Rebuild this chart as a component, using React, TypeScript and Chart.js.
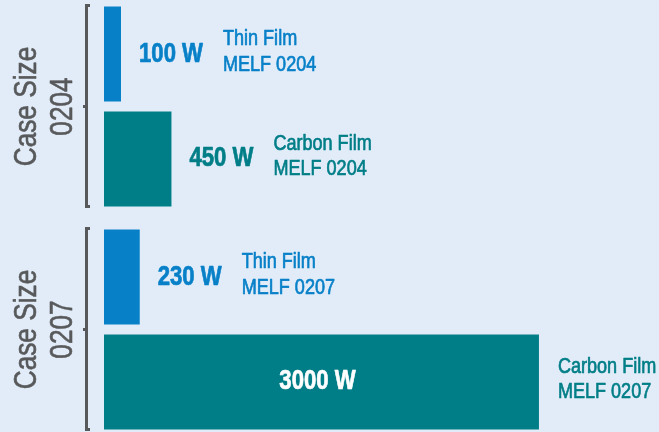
import React, { useEffect, useRef } from 'react';
import { Chart, registerables } from 'chart.js';

Chart.register(...registerables);

// ---- data ----
const caseSizes = ['0204', '0207'];
const groupTitle = 'Case Size';
const seriesNames = ['Thin Film', 'Carbon Film'];
const partFamily = 'MELF';
const thinFilmWatts = [100, 230];
const carbonFilmWatts = [450, 3000];
const unit = 'W';

// ---- style ----
const BLUE = '#0880c8';
const TEAL = '#007e87';
const GREY = '#58595b';
const BG = '#e1ecf8';
const FONT = '"Liberation Sans", Arial, sans-serif';
const NARROW = 0.82; // horizontal condensing factor
const seriesColors = [BLUE, TEAL];
const AXIS_MIN = -18;

function drawText(
  ctx: CanvasRenderingContext2D,
  text: string,
  x: number,
  y: number,
  align: 'left' | 'center',
  weight: number
) {
  const w = ctx.measureText(text).width * NARROW;
  const startX = align === 'center' ? x - w / 2 : x;
  ctx.save();
  ctx.translate(startX, y);
  ctx.scale(NARROW, 1);
  ctx.textAlign = 'left';
  ctx.textBaseline = 'alphabetic';
  ctx.fillText(text, 0, 0);
  if (weight > 0) {
    ctx.strokeStyle = ctx.fillStyle as string;
    ctx.lineWidth = weight;
    ctx.lineJoin = 'round';
    ctx.strokeText(text, 0, 0);
  }
  ctx.restore();
  return w;
}

const annotate = {
  id: 'annotate',
  afterDatasetsDraw(chart: any) {
    const { ctx, chartArea } = chart;
    const yScale = chart.scales.y;
    const nSets = chart.data.datasets.length;
    ctx.save();
    caseSizes.forEach((cs, i) => {
      const first = chart.getDatasetMeta(0).data[i] as any;
      const last = chart.getDatasetMeta(nSets - 1).data[i] as any;
      const top = first.y - first.height / 2 - 1;
      const bottom = last.y + last.height / 2;
      const mid = yScale.getPixelForValue(i);
      const xl = chartArea.left - 17.5;
      const xr = chartArea.left - 14;
      ctx.strokeStyle = GREY;
      ctx.lineWidth = 3;
      ctx.lineJoin = 'miter';
      ctx.lineCap = 'butt';
      ctx.beginPath();
      ctx.moveTo(xr, top);
      ctx.lineTo(xl, top);
      ctx.lineTo(xl, bottom);
      ctx.lineTo(xr, bottom);
      ctx.stroke();
      ctx.beginPath();
      ctx.moveTo(xl, mid);
      ctx.lineTo(xl - 3.5, mid);
      ctx.stroke();

      ctx.save();
      ctx.translate(chartArea.left - 68, mid);
      ctx.rotate(-Math.PI / 2);
      ctx.fillStyle = GREY;
      ctx.font = `32px ${FONT}`;
      drawText(ctx, groupTitle, 0, 0, 'center', 0.6);
      drawText(ctx, cs, 0, 36, 'center', 0.6);
      ctx.restore();
    });

    chart.data.datasets.forEach((ds: any, d: number) => {
      const meta = chart.getDatasetMeta(d);
      meta.data.forEach((bar: any, i: number) => {
        const v = ds.data[i];
        const color = seriesColors[d];
        const valueText = `${v} ${unit}`;
        ctx.font = `bold 27px ${FONT}`;
        const w = ctx.measureText(valueText).width * NARROW;
        const barLen = bar.x - bar.base;
        let nameX: number;
        if (barLen > w * 3) {
          ctx.fillStyle = '#ffffff';
          drawText(ctx, valueText, (bar.x + bar.base) / 2 - 4, bar.y + 7.5, 'center', 0.7);
          nameX = bar.x + 19;
        } else {
          ctx.fillStyle = color;
          drawText(ctx, valueText, bar.x + 18, bar.y + 7.5, 'left', 0.7);
          nameX = bar.x + 18 + w + 20;
        }
        ctx.font = `22px ${FONT}`;
        ctx.fillStyle = color;
        drawText(ctx, seriesNames[d], nameX, bar.y - 9, 'left', 0.7);
        drawText(ctx, `${partFamily} ${caseSizes[i]}`, nameX, bar.y + 16.5, 'left', 0.7);
      });
    });
    ctx.restore();
  },
};

export default function App() {
  const ref = useRef<HTMLCanvasElement | null>(null);
  useEffect(() => {
    if (!ref.current) return;
    const chart = new Chart(ref.current, {
      type: 'bar',
      data: {
        labels: caseSizes.map((c) => `${groupTitle} ${c}`),
        datasets: [
          {
            label: seriesNames[0],
            data: thinFilmWatts,
            backgroundColor: BLUE,
            base: AXIS_MIN,
            barPercentage: 0.905,
            categoryPercentage: 0.9417,
          },
          {
            label: seriesNames[1],
            data: carbonFilmWatts,
            backgroundColor: TEAL,
            base: AXIS_MIN,
            barPercentage: 0.905,
            categoryPercentage: 0.9417,
          },
        ],
      },
      options: {
        indexAxis: 'y',
        animation: false,
        responsive: true,
        maintainAspectRatio: false,
        layout: { padding: { left: 104, right: 0, top: 0, bottom: 0 } },
        plugins: { legend: { display: false }, tooltip: { enabled: false } },
        scales: {
          x: { display: false, min: AXIS_MIN, max: 3833 },
          y: { display: false },
        },
      },
      plugins: [annotate],
    });
    return () => chart.destroy();
  }, []);
  return (
    <div
      style={{
        position: 'absolute',
        left: 0,
        top: 0,
        width: 659,
        height: 432,
        overflow: 'hidden',
        background: BG,
      }}
    >
      <div style={{ position: 'absolute', left: 0, top: -5, width: 659, height: 446 }}>
        <canvas ref={ref} />
      </div>
    </div>
  );
}
